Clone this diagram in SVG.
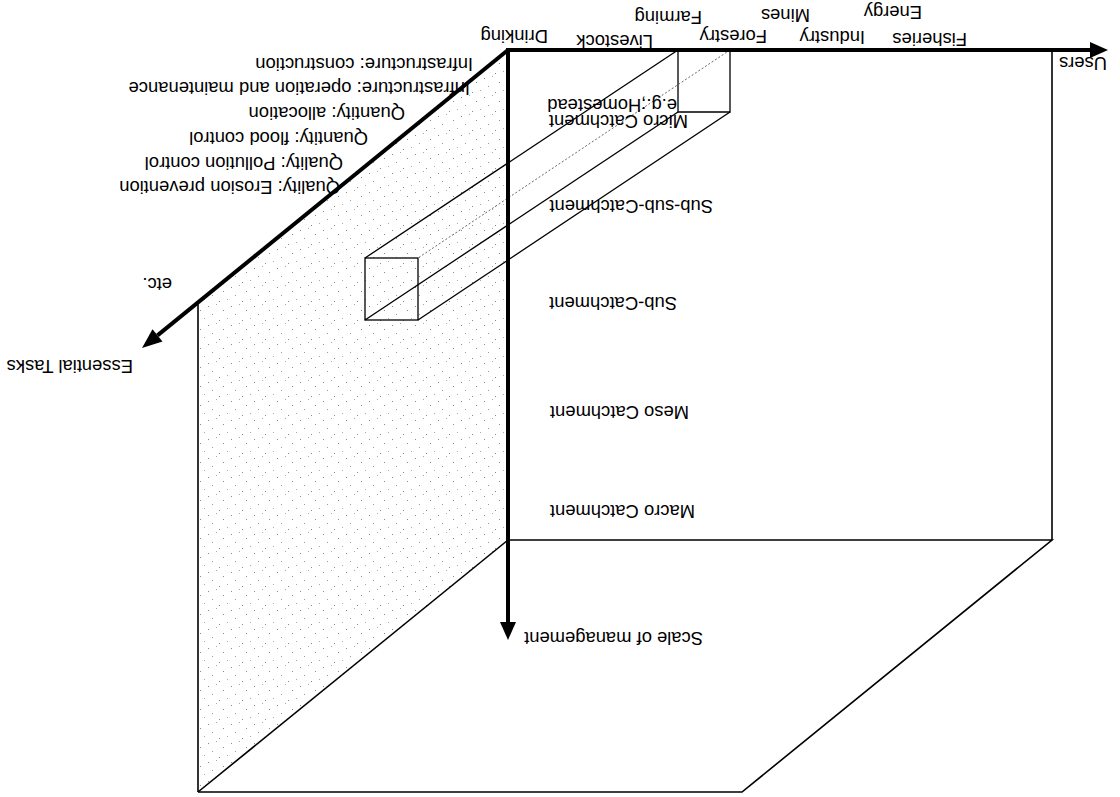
<svg xmlns="http://www.w3.org/2000/svg" width="1120" height="797" viewBox="0 0 1120 797">
<defs>
<pattern id="stip" width="23" height="19" patternUnits="userSpaceOnUse">
<rect x="1" y="2" width="1" height="1" fill="#888"/>
<rect x="9" y="0" width="1" height="1" fill="#aaa"/>
<rect x="16" y="6" width="1" height="1" fill="#888"/>
<rect x="5" y="10" width="1" height="1" fill="#999"/>
<rect x="20" y="14" width="1" height="1" fill="#aaa"/>
<rect x="12" y="16" width="1" height="1" fill="#888"/>
</pattern>
<style>
.t{font-family:"Liberation Sans",Arial,sans-serif;font-size:18.4px;fill:#000}
.thin{stroke:#000;stroke-width:1.6;fill:none}
.beam{stroke:#000;stroke-width:1.3;fill:none}
.axis{stroke:#000;stroke-width:4;fill:none}
</style>
</defs>
<rect width="1120" height="797" fill="#fff"/>
<g id="left-face">
<polygon points="508,50 198,302 198,792 508,540" fill="url(#stip)"/>
<line class="thin" x1="198" y1="302" x2="198" y2="792"/>
<line class="thin" x1="198" y1="792" x2="508" y2="540"/>
</g>
<g id="bottom-face">
<polyline class="thin" points="508,540 1052,540 742,792 198,792"/>
</g>
<g id="right-face">
<line class="thin" x1="1052" y1="50" x2="1052" y2="540"/>
</g>
<g id="beam">
<rect x="365" y="258" width="53" height="62" fill="#fff" class="beam"/>
<polyline class="beam" points="678,50 678,112 730,112 730,50"/>
<line class="beam" x1="678" y1="50" x2="365" y2="258"/>
<line class="beam" x1="678" y1="112" x2="365" y2="320"/>
<line class="beam" x1="730" y1="112" x2="418" y2="320"/>
<line x1="730" y1="50" x2="418" y2="258" stroke="#666" stroke-width="1" stroke-dasharray="2,2"/>
</g>
<g id="connectors">
<line class="axis" x1="506" y1="50" x2="1092" y2="50"/>
<polygon points="1108,50 1090,42 1090,58" fill="#000"/>
<line class="axis" x1="508" y1="48" x2="508" y2="624"/>
<polygon points="508,640 500,622 516,622" fill="#000"/>
<line class="axis" x1="508" y1="50" x2="157.5" y2="335.4"/>
<polygon points="142,348 162.5,341.6 152.5,329.2" fill="#000"/>
</g>
<g id="users-labels">
<text class="t" transform="rotate(180 548 30)" x="548" y="30">Drinking</text>
<text class="t" transform="rotate(180 653 35)" x="653" y="35">Livestock</text>
<text class="t" transform="rotate(180 702 11)" x="702" y="11">Farming</text>
<text class="t" transform="rotate(180 767 30)" x="767" y="30">Forestry</text>
<text class="t" transform="rotate(180 810 9)" x="810" y="9">Mines</text>
<text class="t" transform="rotate(180 865 31)" x="865" y="31">Industry</text>
<text class="t" transform="rotate(180 922 6)" x="922" y="6">Energy</text>
<text class="t" transform="rotate(180 967 33)" x="967" y="33">Fisheries</text>
<text class="t" transform="rotate(180 1107 57)" x="1107" y="57">Users</text>
</g>
<g id="task-labels">
<text class="t" transform="rotate(180 473 58)" x="473" y="58">Infrastructure: construction</text>
<text class="t" transform="rotate(180 470 82)" x="470" y="82">Infrastructure: operation and maintenance</text>
<text class="t" transform="rotate(180 405 107)" x="405" y="107">Quantity: allocation</text>
<text class="t" transform="rotate(180 368 132)" x="368" y="132">Quantity: flood control</text>
<text class="t" transform="rotate(180 343 157)" x="343" y="157">Quality: Pollution control</text>
<text class="t" transform="rotate(180 340 181)" x="340" y="181">Quality: Erosion prevention</text>
<text class="t" transform="rotate(180 172 278)" x="172" y="278">etc.</text>
<text class="t" transform="rotate(180 133 360)" x="133" y="360">Essential Tasks</text>
</g>
<g id="scale-labels">
<text class="t" transform="rotate(180 677 99)" x="677" y="99">e.g.;Homestead</text>
<text class="t" transform="rotate(180 688 115)" x="688" y="115">Micro Catchment</text>
<text class="t" transform="rotate(180 713 200)" x="713" y="200">Sub-sub-Catchment</text>
<text class="t" transform="rotate(180 677 297)" x="677" y="297">Sub-Catchment</text>
<text class="t" transform="rotate(180 689 406)" x="689" y="406">Meso Catchment</text>
<text class="t" transform="rotate(180 695 505)" x="695" y="505">Macro Catchment</text>
<text class="t" transform="rotate(180 703 632)" x="703" y="632">Scale of management</text>
</g>
</svg>
